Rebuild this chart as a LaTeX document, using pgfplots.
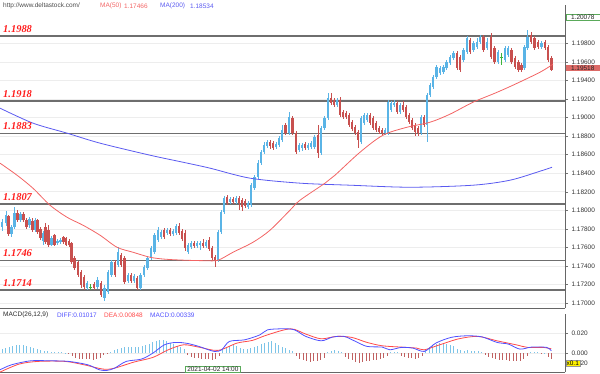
\documentclass[border=0pt]{standalone}
\usepackage{fontspec}
\setmainfont{Liberation Sans}
\newfontfamily\lvlfont{Liberation Serif}
\usepackage{pgfplots}
\usepackage{pgfplotstable}
\pgfplotsset{compat=1.18}
\definecolor{cup}{HTML}{5AB4E6}
\definecolor{cdn}{HTML}{C8504F}
\definecolor{cdoji}{HTML}{3CB43C}
\definecolor{ma50}{HTML}{F26464}
\definecolor{ma200}{HTML}{5A5AF0}
\definecolor{lvl}{HTML}{6E6E6E}
\definecolor{lvltxt}{HTML}{FF1E1E}
\definecolor{hup}{HTML}{7CC4E8}
\definecolor{hdn}{HTML}{C06060}
\definecolor{difc}{HTML}{5050FF}
\definecolor{deac}{HTML}{FF4A4A}
\definecolor{boxg}{HTML}{5AAA5A}
\definecolor{boxr}{HTML}{DC6A66}
\newcommand\sm{\fontsize{6.5}{7.5}\selectfont}

\pgfplotstableread{
x o h l c
2 1.17817 1.17904 1.17774 1.17871
6 1.17861 1.17990 1.17828 1.17947
8.5 1.17936 1.17947 1.17720 1.17742
11.5 1.17742 1.17839 1.17709 1.17817
14.5 1.17817 1.18033 1.17796 1.17969
17.5 1.17969 1.18001 1.17871 1.17893
20.5 1.17893 1.17979 1.17871 1.17958
23.5 1.17958 1.17979 1.17871 1.17893
26.5 1.17893 1.17915 1.17796 1.17817
29.5 1.17839 1.17925 1.17807 1.17904
32.5 1.17882 1.17915 1.17763 1.17785
35 1.17785 1.17915 1.17763 1.17893
37.5 1.17893 1.17904 1.17742 1.17763
40.5 1.17796 1.17817 1.17677 1.17699
43 1.17666 1.17774 1.17623 1.17753
45.5 1.17817 1.17861 1.17634 1.17655
48.5 1.17785 1.17839 1.17601 1.17623
51.5 1.17623 1.17720 1.17612 1.17699
54.5 1.17731 1.17742 1.17612 1.17623
57.5 1.17645 1.17688 1.17623 1.17666
60.5 1.17655 1.17699 1.17634 1.17677
63.5 1.17709 1.17720 1.17634 1.17655
66 1.17699 1.17709 1.17612 1.17623
69 1.17666 1.17688 1.17601 1.17623
71.5 1.17645 1.17655 1.17418 1.17439
74.5 1.17483 1.17504 1.17353 1.17375
78 1.17439 1.17450 1.17277 1.17299
81 1.17331 1.17353 1.17159 1.17191
84 1.17277 1.17299 1.17137 1.17169
87 1.17159 1.17234 1.17137 1.17213
90.5 1.17169 1.17202 1.17137 1.17169
94 1.17202 1.17223 1.17137 1.17159
97.5 1.17169 1.17277 1.17148 1.17245
101 1.17213 1.17234 1.17061 1.17083
104.5 1.17051 1.17191 1.17018 1.17159
108 1.17115 1.17353 1.17094 1.17331
111.5 1.17299 1.17461 1.17277 1.17439
115 1.17439 1.17461 1.17277 1.17299
118 1.17407 1.17601 1.17385 1.17547
121 1.17515 1.17537 1.17385 1.17407
124.5 1.17483 1.17504 1.17202 1.17223
128 1.17234 1.17321 1.17213 1.17299
131 1.17299 1.17321 1.17213 1.17234
134 1.17234 1.17310 1.17213 1.17288
137 1.17267 1.17288 1.17137 1.17159
140.5 1.17159 1.17321 1.17137 1.17299
144 1.17299 1.17407 1.17277 1.17385
147.5 1.17375 1.17504 1.17353 1.17483
151 1.17483 1.17612 1.17461 1.17591
154.5 1.17547 1.17753 1.17526 1.17731
158 1.17677 1.17817 1.17655 1.17785
161 1.17709 1.17785 1.17688 1.17763
164 1.17785 1.17807 1.17688 1.17709
167 1.17753 1.17807 1.17731 1.17785
170 1.17785 1.17807 1.17720 1.17742
173 1.17742 1.17796 1.17720 1.17774
176 1.17753 1.17850 1.17731 1.17828
179 1.17828 1.17861 1.17731 1.17753
182 1.17774 1.17796 1.17666 1.17688
185 1.17753 1.17785 1.17558 1.17591
188 1.17547 1.17645 1.17526 1.17623
191 1.17601 1.17666 1.17580 1.17645
194 1.17645 1.17666 1.17591 1.17612
197 1.17612 1.17666 1.17591 1.17645
200 1.17623 1.17666 1.17569 1.17645
203 1.17645 1.17688 1.17591 1.17612
206 1.17612 1.17677 1.17591 1.17655
209 1.17677 1.17709 1.17558 1.17580
212 1.17591 1.17612 1.17450 1.17483
215 1.17493 1.17515 1.17385 1.17461
218 1.17461 1.17785 1.17439 1.17763
221 1.17763 1.18001 1.17742 1.17979
224 1.17979 1.18152 1.17958 1.18131
227 1.18141 1.18163 1.18055 1.18077
230 1.18087 1.18141 1.18066 1.18120
233 1.18120 1.18141 1.18066 1.18087
236 1.18087 1.18152 1.18066 1.18131
239 1.18131 1.18152 1.18001 1.18077
242 1.18109 1.18131 1.17990 1.18033
245 1.18098 1.18120 1.18023 1.18044
248 1.18033 1.18098 1.18012 1.18077
251 1.18055 1.18293 1.18033 1.18271
254.5 1.18238 1.18379 1.18217 1.18357
258 1.18357 1.18541 1.18336 1.18509
261 1.18509 1.18649 1.18487 1.18627
264 1.18627 1.18735 1.18606 1.18703
267 1.18692 1.18757 1.18671 1.18735
270 1.18735 1.18757 1.18660 1.18692
273 1.18725 1.18746 1.18649 1.18671
276 1.18681 1.18735 1.18660 1.18714
279 1.18703 1.18800 1.18681 1.18779
282 1.18757 1.18919 1.18735 1.18865
285.5 1.18919 1.18941 1.18811 1.18833
289 1.18833 1.19059 1.18811 1.19005
292.5 1.18995 1.19016 1.18811 1.18833
296 1.18833 1.18854 1.18606 1.18627
299 1.18649 1.18725 1.18627 1.18703
302 1.18671 1.18725 1.18638 1.18703
305 1.18714 1.18735 1.18649 1.18671
308 1.18671 1.18725 1.18649 1.18703
311 1.18681 1.18746 1.18660 1.18725
314.5 1.18681 1.18811 1.18660 1.18789
318 1.18811 1.18919 1.18563 1.18617
321 1.18617 1.18908 1.18595 1.18887
324.5 1.18887 1.19016 1.18865 1.18995
328 1.18995 1.19265 1.18973 1.19211
331 1.19211 1.19265 1.19135 1.19157
334 1.19189 1.19211 1.19113 1.19135
337 1.19135 1.19211 1.19113 1.19189
340 1.19189 1.19221 1.19005 1.19027
343 1.19059 1.19081 1.18984 1.19005
346 1.19049 1.19070 1.18984 1.19005
349 1.19027 1.19049 1.18897 1.18919
352 1.18951 1.18973 1.18854 1.18876
355 1.18897 1.18919 1.18811 1.18833
358 1.18843 1.18865 1.18671 1.18757
361 1.18735 1.19016 1.18714 1.18995
364 1.18941 1.19049 1.18919 1.19027
367 1.18973 1.19049 1.18951 1.19027
370 1.19027 1.19049 1.18919 1.18941
373 1.18995 1.19016 1.18865 1.18887
376 1.18941 1.18962 1.18843 1.18865
379 1.18887 1.18908 1.18822 1.18843
382 1.18865 1.18887 1.18800 1.18833
385 1.18833 1.18887 1.18811 1.18865
388 1.18833 1.19189 1.18811 1.19167
391 1.19081 1.19178 1.19059 1.19157
394 1.19135 1.19189 1.19113 1.19157
397 1.19157 1.19178 1.19038 1.19059
400 1.19059 1.19157 1.19038 1.19135
403 1.19135 1.19178 1.19059 1.19081
406 1.19113 1.19135 1.18984 1.19005
409 1.19027 1.19049 1.18930 1.18951
412 1.18973 1.18995 1.18865 1.18887
415 1.18919 1.18941 1.18800 1.18843
418 1.18887 1.18908 1.18800 1.18833
421 1.18833 1.19027 1.18811 1.19005
424 1.19005 1.19027 1.18897 1.18919
427 1.18919 1.19265 1.18735 1.19243
430 1.19243 1.19373 1.19221 1.19351
433 1.19329 1.19459 1.19308 1.19437
436.5 1.19437 1.19567 1.19416 1.19545
440 1.19481 1.19556 1.19459 1.19535
443.5 1.19491 1.19567 1.19470 1.19545
446.5 1.19535 1.19621 1.19513 1.19599
450 1.19589 1.19675 1.19567 1.19653
453.5 1.19643 1.19718 1.19621 1.19697
457 1.19697 1.19718 1.19513 1.19535
460 1.19653 1.19675 1.19491 1.19513
463.5 1.19621 1.19751 1.19599 1.19729
467 1.19707 1.19880 1.19686 1.19859
470 1.19837 1.19859 1.19686 1.19707
473.5 1.19729 1.19826 1.19707 1.19805
477 1.19761 1.19859 1.19740 1.19815
480 1.19815 1.19891 1.19794 1.19869
483.5 1.19869 1.19891 1.19707 1.19729
487 1.19751 1.19859 1.19729 1.19815
491 1.19869 1.19913 1.19632 1.19653
494.5 1.19751 1.19772 1.19578 1.19599
498 1.19599 1.19729 1.19578 1.19707
501.5 1.19653 1.19697 1.19567 1.19653
505 1.19621 1.19772 1.19599 1.19751
508 1.19675 1.19772 1.19653 1.19751
511.5 1.19729 1.19751 1.19578 1.19599
515 1.19643 1.19664 1.19524 1.19545
518.5 1.19599 1.19621 1.19491 1.19513
521.5 1.19567 1.19589 1.19491 1.19513
524.5 1.19535 1.19783 1.19513 1.19761
527.5 1.19751 1.19945 1.19729 1.19869
531 1.19891 1.19923 1.19794 1.19815
534.5 1.19859 1.19880 1.19729 1.19751
538 1.19815 1.19837 1.19740 1.19761
541.5 1.19761 1.19826 1.19740 1.19805
545 1.19815 1.19837 1.19729 1.19751
548 1.19761 1.19783 1.19599 1.19621
551.5 1.19643 1.19664 1.19502 1.19518
}\candles

\pgfplotstableread{
x v
0 1.18509
17 1.18379
33 1.18238
50 1.18055
67 1.17925
83 1.17839
100 1.17731
117 1.17601
133 1.17547
150 1.17493
165 1.17472
185 1.17461
205 1.17456
218 1.17461
233 1.17547
253 1.17655
270 1.17785
290 1.18001
300 1.18109
325 1.18293
335 1.18379
360 1.18627
383 1.18811
407 1.18897
430 1.18951
450 1.19038
473 1.19167
495 1.19265
513 1.19351
540 1.19491
553 1.19578
}\maA

\pgfplotstableread{
x v
0 1.19103
33 1.18941
67 1.18833
100 1.18725
150 1.18595
183 1.18519
210 1.18455
250 1.18347
300 1.18293
350 1.18271
410 1.18249
473 1.18271
510 1.18325
540 1.18422
552 1.18465
}\maB

\pgfplotstableread{
x v
0 -0.0167
11.5 -0.0117
30.6 -0.0077
49.7 -0.0077
68.8 -0.0083
87.9 -0.0117
99.4 -0.0167
107 -0.0173
114.7 -0.0150
126.2 -0.0083
141.4 -0.0060
152.9 0.0000
164.4 0.0083
175.9 0.0107
187.3 0.0097
198.8 0.0067
214.1 0.0017
221.7 0.0033
229.4 0.0117
244.7 0.0133
260 0.0183
267.6 0.0233
282.9 0.0243
294.4 0.0233
305.8 0.0167
321.1 0.0123
332.6 0.0160
344.1 0.0167
355.5 0.0117
367 0.0067
382.3 0.0060
389.9 0.0033
401.4 0.0057
412.9 0.0050
424.3 0.0017
435.8 0.0100
451.1 0.0157
466.4 0.0173
481.7 0.0163
497 0.0107
508.4 0.0090
519.9 0.0040
531.4 0.0060
546.7 0.0057
551.3 0.0023
}\diff

\pgfplotstableread{
x v
0 -0.0190
19.1 -0.0110
38.2 -0.0083
65 -0.0083
84.1 -0.0117
103.2 -0.0160
114.7 -0.0150
133.8 -0.0090
152.9 -0.0043
168.2 0.0033
183.5 0.0083
198.8 0.0060
217.9 0.0027
237 0.0100
252.3 0.0127
267.6 0.0183
290.5 0.0243
305.8 0.0190
321.1 0.0143
336.4 0.0167
351.7 0.0157
367 0.0107
382.3 0.0073
401.4 0.0060
416.7 0.0050
424.3 0.0033
439.6 0.0083
458.8 0.0143
477.9 0.0167
497 0.0123
516.1 0.0083
527.6 0.0057
542.9 0.0057
551.3 0.0043
}\dea

\pgfplotstableread{
x v
2 0.0045
5.5 0.0055
9 0.0062
12.5 0.0070
16 0.0078
19.5 0.0085
23 0.0080
26.5 0.0068
30 0.0058
33.5 0.0050
37 0.0040
40.5 0.0030
44 0.0022
47.5 0.0018
51 0.0015
54.5 0.0012
58 0.0010
61.5 0.0008
65 0.0005
68.5 -0.0010
72 -0.0030
75.5 -0.0045
79 -0.0055
82.5 -0.0062
86 -0.0060
89.5 -0.0058
93 -0.0065
96.5 -0.0060
100 -0.0045
103.5 -0.0020
107 -0.0008
110.5 0.0010
114 0.0030
117.5 0.0045
121 0.0050
124.5 0.0058
128 0.0060
131.5 0.0065
135 0.0062
138.5 0.0058
142 0.0068
145.5 0.0080
149 0.0095
152.5 0.0110
156 0.0125
159.5 0.0132
163 0.0128
166.5 0.0120
170 0.0105
173.5 0.0090
177 0.0075
180.5 0.0060
184 0.0045
187.5 -0.0020
191 -0.0035
194.5 -0.0045
198 -0.0050
201.5 -0.0055
205 -0.0058
208.5 -0.0062
212 -0.0068
215.5 -0.0060
219 -0.0030
222.5 0.0030
226 0.0060
229.5 0.0075
233 0.0078
236.5 0.0070
240 0.0055
243.5 0.0042
247 0.0040
250.5 0.0050
254 0.0062
257.5 0.0075
261 0.0090
264.5 0.0105
268 0.0115
271.5 0.0118
275 0.0105
278.5 0.0085
282 0.0065
285.5 0.0050
289 0.0035
292.5 0.0020
296 -0.0030
299.5 -0.0055
303 -0.0070
306.5 -0.0080
310 -0.0085
313.5 -0.0080
317 -0.0075
320.5 -0.0070
324 -0.0050
327.5 0.0010
331 0.0025
334.5 0.0028
338 0.0025
341.5 0.0010
345 -0.0035
348.5 -0.0055
352 -0.0070
355.5 -0.0085
359 -0.0100
362.5 -0.0090
366 -0.0075
369.5 -0.0080
373 -0.0070
376.5 -0.0065
380 -0.0060
383.5 -0.0045
387 -0.0030
390.5 0.0008
394 0.0015
397.5 0.0010
401 -0.0030
404.5 -0.0040
408 -0.0045
411.5 -0.0050
415 -0.0055
418.5 -0.0045
422 -0.0030
425.5 0.0025
429 0.0060
432.5 0.0080
436 0.0095
439.5 0.0100
443 0.0098
446.5 0.0092
450 0.0085
453.5 0.0070
457 0.0045
460.5 0.0030
464 0.0025
467.5 0.0030
471 0.0025
474.5 0.0020
478 0.0022
481.5 0.0015
485 -0.0015
488.5 -0.0035
492 -0.0050
495.5 -0.0060
499 -0.0065
502.5 -0.0070
506 -0.0072
509.5 -0.0075
513 -0.0078
516.5 -0.0080
520 -0.0075
523.5 -0.0055
527 -0.0030
530.5 0.0010
534 0.0012
537.5 0.0008
541 -0.0008
544.5 0.0005
548 -0.0040
551.5 -0.0060
}\hist

\pgfplotsset{
  panel/.style={
    scale only axis, anchor=south west,
    width=565bp, xmin=0, xmax=565,
    axis x line=bottom, axis y line=right,
    axis line style={-, draw=black!60, line width=0.9bp},
    xtick=\empty, tick align=outside, major tick length=3bp,
    tick style={black!55, line width=0.5bp},
    scaled y ticks=false,
    ymajorgrids, grid style={black!7, line width=0.6bp},
    clip=false,
  },
  lvlline/.style={lvl, line width=1.4bp, forget plot},
  candle/.style={draw=none, no markers, forget plot,
    error bars/.cd, y dir=both, y explicit, error mark=none},
}
\tikzset{
  lvllab/.style={anchor=base west, inner sep=0pt, text=lvltxt, yshift=3.5bp,
    font={\lvlfont\bfseries\itshape\fontsize{10.5}{12}\selectfont}},
}

\begin{document}
\begin{tikzpicture}[x=1bp,y=1bp]
\useasboundingbox (0,0) rectangle (600,373);
\begin{axis}[panel, at={(0,70)}, height=303bp,
  ymin=1.16943, ymax=1.20215,
  ytick={1.170,1.172,1.174,1.176,1.178,1.180,1.182,1.184,1.186,1.188,1.190,1.192,1.194,1.196,1.198},
  yticklabel style={font=\sm, text=black!80,
    /pgf/number format/.cd, fixed, fixed zerofill, precision=5, assume math mode=true},
]
\addplot[lvlline] coordinates {(0,1.1988) (565,1.1988)};
\addplot[lvlline] coordinates {(0,1.1918) (565,1.1918)};
\addplot[lvlline] coordinates {(0,1.1883) (565,1.1883)};
\addplot[lvlline] coordinates {(0,1.1807) (565,1.1807)};
\addplot[lvlline] coordinates {(0,1.1746) (565,1.1746)};
\addplot[lvlline] coordinates {(0,1.1714) (565,1.1714)};
% up candles
\addplot[candle, error bar style={line width=0.7bp, draw=cup, solid}]
  table[x=x, y expr={(\thisrow{h}+\thisrow{l})/2}, y error expr={(\thisrow{h}-\thisrow{l})/2},
    restrict expr to domain={\thisrow{c}-\thisrow{o}}{0.000001:1}] {\candles};
\addplot[candle, error bar style={line width=2.4bp, draw=cup, solid}]
  table[x=x, y expr={(\thisrow{o}+\thisrow{c})/2}, y error expr={(\thisrow{c}-\thisrow{o})/2},
    restrict expr to domain={\thisrow{c}-\thisrow{o}}{0.000001:1}] {\candles};
% down candles
\addplot[candle, error bar style={line width=0.7bp, draw=cdn, solid}]
  table[x=x, y expr={(\thisrow{h}+\thisrow{l})/2}, y error expr={(\thisrow{h}-\thisrow{l})/2},
    restrict expr to domain={\thisrow{c}-\thisrow{o}}{-1:-0.000001}] {\candles};
\addplot[candle, error bar style={line width=2.4bp, draw=cdn, solid}]
  table[x=x, y expr={(\thisrow{o}+\thisrow{c})/2}, y error expr={(\thisrow{o}-\thisrow{c})/2},
    restrict expr to domain={\thisrow{c}-\thisrow{o}}{-1:-0.000001}] {\candles};
% doji
\addplot[candle, error bar style={line width=0.7bp, draw=cdoji, solid}]
  table[x=x, y expr={(\thisrow{h}+\thisrow{l})/2}, y error expr={(\thisrow{h}-\thisrow{l})/2},
    restrict expr to domain={\thisrow{c}-\thisrow{o}}{-0.000001:0.000001}] {\candles};
\addplot[only marks, mark=-, mark size=1.4bp, mark options={line width=0.8bp, draw=cdoji}, forget plot]
  table[x=x, y=c, restrict expr to domain={\thisrow{c}-\thisrow{o}}{-0.000001:0.000001}] {\candles};
% moving averages
\addplot[ma200, line width=0.8bp, smooth, no markers, forget plot] table[x=x, y=v] {\maB};
\addplot[ma50, line width=0.8bp, smooth, no markers, forget plot] table[x=x, y=v] {\maA};
% level labels
\node[lvllab] at (axis cs:3,1.1988) {1.1988};
\node[lvllab] at (axis cs:3,1.1918) {1.1918};
\node[lvllab] at (axis cs:3,1.1883) {1.1883};
\node[lvllab] at (axis cs:3,1.1807) {1.1807};
\node[lvllab] at (axis cs:3,1.1746) {1.1746};
\node[lvllab] at (axis cs:3,1.1714) {1.1714};
\end{axis}

\begin{axis}[panel, at={(0,9)}, height=58bp,
  ymin=-0.019, ymax=0.039, ytick={0,0.02},
  yticklabel style={font=\sm, text=black!80,
    /pgf/number format/.cd, fixed, fixed zerofill, precision=3, assume math mode=true},
]
\addplot[ycomb, hup, line width=1bp, no markers, forget plot] table[x=x, y=v, restrict y to domain=0:1] {\hist};
\addplot[ycomb, hdn, line width=1bp, no markers, forget plot] table[x=x, y=v, restrict y to domain=-1:0] {\hist};
\addplot[deac, line width=0.8bp, smooth, no markers, forget plot] table[x=x, y=v] {\dea};
\addplot[difc, line width=0.8bp, smooth, no markers, forget plot] table[x=x, y=v] {\diff};
\end{axis}

% top info line
\node[anchor=west, inner sep=0pt, font=\sm, text=black!70] at (3,367) {http://www.deltastock.com/};
\node[anchor=west, inner sep=0pt, font=\sm, text=ma50] at (100,367) {MA(50)};
\node[anchor=west, inner sep=0pt, font=\sm, text=ma50] at (124,367) {1.17466};
\node[anchor=west, inner sep=0pt, font=\sm, text=ma200] at (160,367) {MA(200)};
\node[anchor=west, inner sep=0pt, font=\sm, text=ma200] at (190,367) {1.18534};
% MACD legend
\node[anchor=west, inner sep=0pt, font=\sm, text=black!85] at (3,58) {MACD(26,12,9)};
\node[anchor=west, inner sep=0pt, font=\sm, text=difc] at (57,58) {DIFF:0.01017};
\node[anchor=west, inner sep=0pt, font=\sm, text=deac] at (104,58) {DEA:0.00848};
\node[anchor=west, inner sep=0pt, font=\sm, text=difc] at (150,58) {MACD:0.00339};
% right-side price boxes
\node[anchor=west, draw=boxg, fill=white, line width=0.6bp, inner xsep=1pt, inner ysep=0.8pt,
  font=\sm, text=black!85, minimum width=34bp] at (565.5,356) {1.20078};
\node[anchor=west, fill=boxr, inner xsep=1pt, inner ysep=0.8pt,
  font=\sm, text=black!85, minimum width=34bp] at (565.5,305) {1.19518};
\node[anchor=west, fill=yellow, draw=black!40, line width=0.3bp, inner xsep=1pt, inner ysep=0.8pt,
  font=\sm, text=black] (xbox) at (565.5,10) {x0.1};
\node[anchor=west, inner sep=0pt, font=\sm, text=black!80] at ([xshift=0.3bp]xbox.east) {20};
% date box
\node[anchor=south west, draw=boxg, fill=white, line width=0.6bp, inner xsep=2pt, inner ysep=1pt,
  font=\sm, text=black!85] at (185,0) {2021-04-02 14:00};
\end{tikzpicture}
\end{document}
